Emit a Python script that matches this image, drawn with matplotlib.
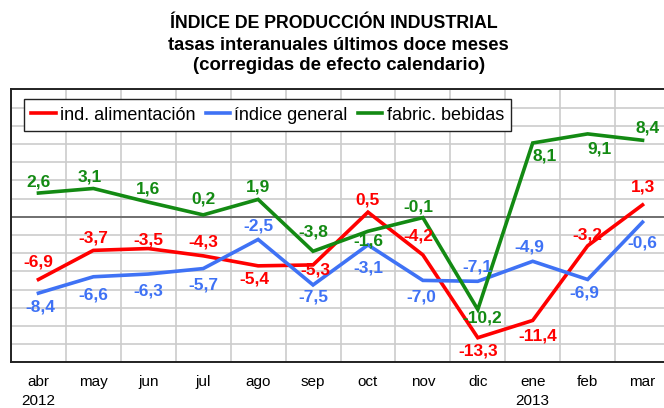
import numpy as np
import matplotlib.pyplot as plt
from matplotlib.ticker import FixedLocator, NullFormatter

plt.rcParams['font.family'] = ['Liberation Sans', 'DejaVu Sans']

# data
meses = ['abr', 'may', 'jun', 'jul', 'ago', 'sep', 'oct', 'nov', 'dic', 'ene', 'feb', 'mar']
anios = {0: '2012', 9: '2013'}
alimentacion = [-6.9, -3.7, -3.5, -4.3, -5.4, -5.3, 0.5, -4.2, -13.3, -11.4, -3.2, 1.3]
general = [-8.4, -6.6, -6.3, -5.7, -2.5, -7.5, -3.1, -7.0, -7.1, -4.9, -6.9, -0.6]
bebidas = [2.6, 3.1, 1.6, 0.2, 1.9, -3.8, -1.6, -0.1, -10.2, 8.1, 9.1, 8.4]

# label offsets in pixels (dx, dy), positive dy = up
off_alim = [(0, 17), (0, 12), (0, 9), (0, 14), (-4, -13), (2, -5), (0, 12), (-4, 19),
            (0, -13), (5, -16), (0, 11), (0, 18)]
off_gen = [(2, -14), (0, -18), (0, -17), (0, -16), (0, 13), (0, -12), (0, -23), (-2, -17),
           (0, 14), (-3, 14), (-3, -14), (0, -21)]
off_beb = [(0, 11), (-4, 11), (0, 13), (0, 16), (0, 12), (0, 19), (0, -10), (-4, 11),
           (4, -8), (12, -13), (12, -15), (5, 12)]

c_red = '#ff0000'
c_blue = '#3f72f5'
c_green = '#138a13'

fig = plt.figure(figsize=(6.64, 4.08), dpi=100)
ax = fig.add_axes([11 / 664, (408 - 362.3) / 408, 659 / 664, (362.3 - 89.3) / 408])

x = np.arange(len(meses))
series = [
    (alimentacion, c_red, 'ind. alimentación', off_alim),
    (general, c_blue, 'índice general', off_gen),
    (bebidas, c_green, 'fabric. bebidas', off_beb),
]
for vals, col, name, offs in series:
    ax.plot(x, vals, color=col, lw=2.6, label=name, zorder=3, solid_joinstyle='miter')
for vals, col, name, offs in series:
    for xi, v, (dx, dy) in zip(x, vals, offs):
        ax.annotate(f'{v:.1f}'.replace('.', ','), (xi, v), xytext=(dx, dy),
                    textcoords='offset pixels', ha='center', va='center',
                    color=col, fontsize=12.5, fontweight='bold', zorder=4)

ax.axhline(0, color='#555555', lw=1.1, zorder=2)

ax.set_xlim(-0.5, 11.5)
ax.set_ylim(-16, 14)
ax.yaxis.set_major_locator(FixedLocator(np.arange(-16, 15, 2)))
ax.yaxis.set_major_formatter(NullFormatter())
ax.xaxis.set_major_locator(FixedLocator(x))
ax.xaxis.set_minor_locator(FixedLocator(np.arange(-0.5, 12, 1)))
labels = [m + ('\n' + anios[i] if i in anios else '') for i, m in enumerate(meses)]
ax.set_xticklabels(labels, fontsize=11)
for lbl in ax.get_xticklabels():
    lbl.set_linespacing(1.45)
ax.tick_params(axis='both', which='both', length=0)
ax.tick_params(axis='x', pad=9)
ax.grid(True, axis='y', which='major', color='#cccccc', lw=1.2, zorder=0)
ax.grid(True, axis='x', which='minor', color='#cccccc', lw=1.2, zorder=0)
for s in ax.spines.values():
    s.set_color('#222222')
    s.set_linewidth(1.4)

leg = ax.legend(ncol=3, loc='upper left', bbox_to_anchor=(13 / 659, 1 - 10 / 273),
                fontsize=13, frameon=True, fancybox=False, framealpha=1,
                edgecolor='#222222', handlelength=1.35, handletextpad=0.25,
                columnspacing=0.55, borderpad=0.4, borderaxespad=0)
leg.get_frame().set_linewidth(1.0)

fig.text(0.503, 1 - 24 / 408, 'ÍNDICE DE PRODUCCIÓN INDUSTRIAL', ha='center', va='center',
         fontsize=12.8, fontweight='bold')
fig.text(0.510, 1 - 46 / 408, 'tasas interanuales últimos doce meses', ha='center', va='center',
         fontsize=13.2, fontweight='bold')
fig.text(0.510, 1 - 66 / 408, '(corregidas de efecto calendario)', ha='center', va='center',
         fontsize=13.4, fontweight='bold')

fig.savefig('out.png', dpi=100)
